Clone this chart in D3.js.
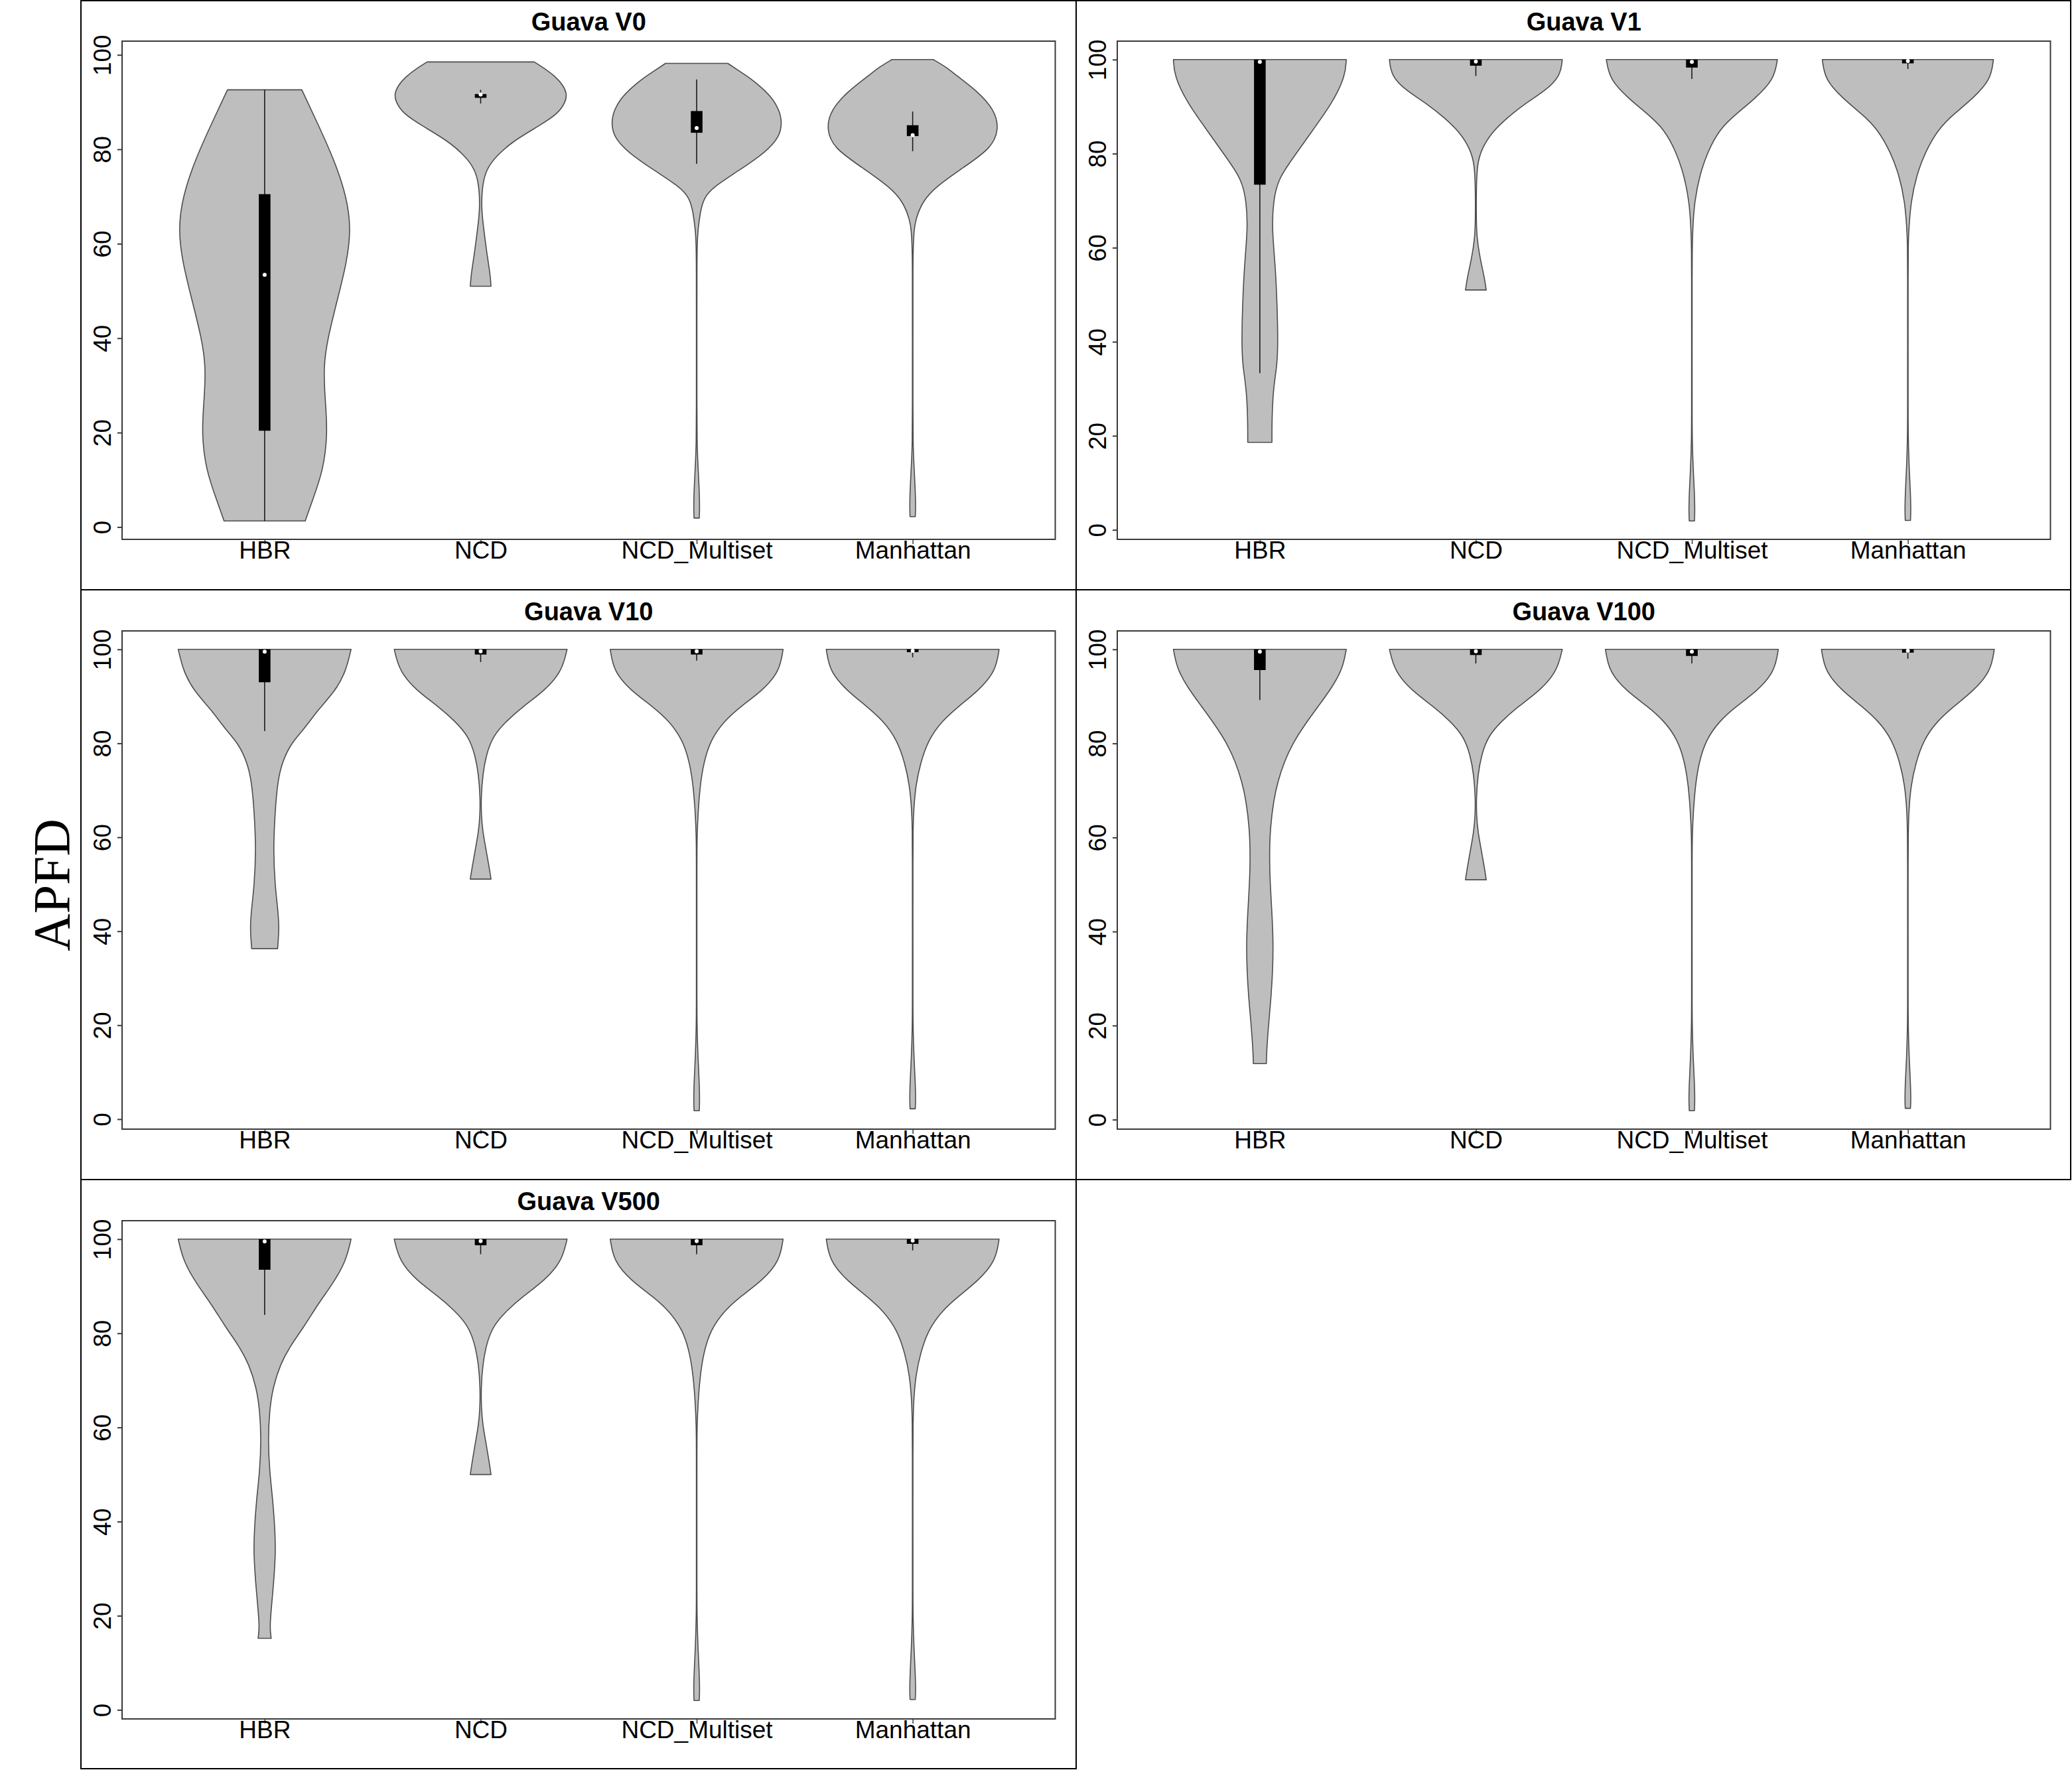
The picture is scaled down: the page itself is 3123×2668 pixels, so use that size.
<!DOCTYPE html>
<html>
<head>
<meta charset="utf-8">
<script src="https://cdn.jsdelivr.net/npm/d3@7"></script>
<style>
  html, body { margin: 0; padding: 0; background: #fff; }
  svg { display: block; }
</style>
</head>
<body>
<svg id="chart" width="3123" height="2668"></svg>
<script>
// ---------------- DATA ----------------
const panelTitles = ["Guava V0", "Guava V1", "Guava V10", "Guava V100", "Guava V500"];
const categories = ["HBR", "NCD", "NCD_Multiset", "Manhattan"];
const yTicks = [0, 20, 40, 60, 80, 100];
const yLabel = "APFD";

// Violin density profiles: [APFD value, relative half-width (1 = widest)]
const densityV0 = [
  [[1.3,0.47],[5,0.54],[12,0.68],[20,0.73],[27,0.70],[34,0.68],[40,0.73],[48,0.84],[56,0.95],[63,1.0],[70,0.95],[78,0.80],[86,0.60],[92.6,0.43]],
  [[51,0.12],[53.5,0.11],[57,0.08],[61,0.05],[64,0.03],[67,0.012],[71,0.012],[75.4,0.05],[78.6,0.18],[81.8,0.38],[85,0.68],[87.6,0.90],[90,0.98],[91.5,1.0],[93.5,0.96],[95.5,0.86],[97,0.75],[98.5,0.62]],
  [[1.9,0.03],[4,0.035],[8,0.03],[13,0.015],[18,0.004],[25,0.003],[40,0.003],[55,0.003],[60,0.006],[63,0.015],[66.5,0.04],[69.7,0.08],[72.1,0.2],[75.4,0.48],[79.4,0.80],[82.6,0.96],[85.9,0.99],[88.5,0.95],[90.7,0.88],[92.8,0.77],[94.8,0.64],[96.5,0.5],[98.2,0.36]],
  [[2.2,0.03],[4,0.035],[8,0.03],[13,0.015],[17.5,0.004],[25,0.003],[40,0.003],[55,0.003],[57.6,0.005],[60,0.008],[62.5,0.015],[64.9,0.03],[68.9,0.11],[72.1,0.27],[76.2,0.59],[80.2,0.91],[84.2,1.0],[88.3,0.95],[92.3,0.75],[95.6,0.51],[97.5,0.38],[99,0.24]]
];
const densityV1 = [
  [[18.6,0.14],[23.6,0.14],[30,0.155],[35,0.20],[40,0.21],[48,0.20],[56,0.18],[64,0.14],[69.8,0.155],[74.6,0.21],[79.5,0.40],[85.2,0.62],[90.8,0.84],[96.5,0.99],[100,1.0]],
  [[51,0.12],[53.6,0.10],[57.6,0.05],[62.5,0.008],[67.3,0.005],[72.2,0.005],[77.9,0.015],[81.1,0.07],[84.4,0.18],[87.6,0.36],[90.8,0.58],[93.3,0.80],[96.5,0.98],[100,1.0]],
  [[1.9,0.03],[4,0.035],[8,0.03],[13,0.015],[19,0.004],[25,0.003],[40,0.003],[55,0.003],[59.2,0.004],[64.1,0.01],[69.8,0.03],[75.4,0.09],[80.3,0.18],[85.2,0.32],[88.4,0.51],[91.7,0.73],[95.7,0.95],[100,0.99]],
  [[2.0,0.03],[4,0.035],[8,0.03],[13,0.015],[19.5,0.004],[25,0.003],[40,0.003],[55,0.003],[61,0.004],[64.1,0.012],[69.8,0.035],[75.4,0.10],[80.3,0.20],[85.2,0.35],[88.4,0.53],[91.7,0.75],[95.7,0.96],[100,0.99]]
];
const densityV10 = [
  [[36.3,0.15],[41,0.17],[45,0.15],[49.9,0.12],[57.2,0.10],[65.3,0.12],[71.8,0.15],[75.8,0.20],[79.9,0.30],[83.1,0.46],[87.2,0.62],[91.2,0.82],[95.3,0.94],[100,1.0]],
  [[51.1,0.12],[53.5,0.10],[57.2,0.064],[61.2,0.024],[64.5,0.008],[68.5,0.005],[73.4,0.024],[77.5,0.064],[81.5,0.14],[84.8,0.30],[88,0.50],[91.2,0.74],[95.3,0.94],[100,1.0]],
  [[1.8,0.03],[4,0.035],[8,0.03],[13,0.015],[20,0.004],[25,0.003],[40,0.003],[55,0.003],[60,0.004],[65.3,0.016],[71,0.04],[75.8,0.08],[80.7,0.16],[84.8,0.32],[88,0.52],[91.2,0.76],[95.3,0.96],[100,1.0]],
  [[2.2,0.03],[4,0.035],[8,0.03],[13,0.015],[19.5,0.004],[25,0.003],[40,0.003],[55,0.003],[62,0.004],[66,0.012],[71,0.035],[75.8,0.09],[80.7,0.18],[84.8,0.34],[88,0.54],[91.2,0.76],[95.3,0.96],[100,1.0]]
];
const densityV100 = [
  [[11.9,0.075],[15,0.08],[20,0.10],[26,0.13],[32,0.15],[38,0.155],[44,0.14],[50,0.12],[56,0.11],[62,0.12],[68,0.16],[72,0.21],[76,0.28],[80,0.38],[84,0.52],[88,0.68],[92,0.84],[96,0.96],[100,1.0]],
  [[51,0.12],[53.5,0.10],[57.2,0.064],[61.2,0.024],[64.5,0.008],[68.5,0.005],[73.4,0.024],[77.5,0.064],[81.5,0.14],[84.8,0.30],[88,0.50],[91.2,0.74],[95.3,0.94],[100,1.0]],
  [[1.9,0.03],[4,0.035],[8,0.03],[13,0.015],[20,0.004],[25,0.003],[40,0.003],[55,0.003],[60,0.004],[65.3,0.016],[71,0.04],[75.8,0.08],[80.7,0.16],[84.8,0.32],[88,0.52],[91.2,0.76],[95.3,0.96],[100,1.0]],
  [[2.4,0.03],[4,0.035],[8,0.03],[13,0.015],[19.5,0.004],[25,0.003],[40,0.003],[55,0.003],[61,0.004],[66,0.012],[71,0.035],[75.8,0.09],[80.7,0.18],[84.8,0.34],[88,0.54],[91.2,0.76],[95.3,0.96],[100,1.0]]
];
const densityV500 = [
  [[15.2,0.076],[17.7,0.056],[25,0.096],[33.1,0.128],[37.9,0.12],[44.4,0.096],[50.8,0.056],[57.3,0.04],[63.7,0.056],[68.5,0.096],[73.4,0.18],[77.4,0.30],[81.5,0.46],[86.3,0.62],[90.3,0.78],[95.2,0.94],[100,1.0]],
  [[50.0,0.12],[52.5,0.10],[56.5,0.064],[60.5,0.024],[64,0.008],[68.5,0.005],[73.4,0.024],[77.5,0.064],[81.5,0.14],[84.8,0.30],[88,0.50],[91.2,0.74],[95.3,0.94],[100,1.0]],
  [[2.0,0.03],[4,0.035],[8,0.03],[13,0.015],[20,0.004],[25,0.003],[40,0.003],[55,0.003],[60,0.004],[65.3,0.016],[71,0.04],[75.8,0.08],[80.7,0.16],[84.8,0.32],[88,0.52],[91.2,0.76],[95.3,0.96],[100,1.0]],
  [[2.2,0.03],[4,0.035],[8,0.03],[13,0.015],[19.5,0.004],[25,0.003],[40,0.003],[55,0.003],[61,0.004],[66,0.012],[71,0.035],[75.8,0.09],[80.7,0.18],[84.8,0.34],[88,0.54],[91.2,0.76],[95.3,0.96],[100,1.0]]
];

// Box statistics: [lower whisker, Q1, median, Q3, upper whisker]
const boxV0 = [[1.3,20.4,53.4,70.5,92.6],[89.7,90.9,91.6,91.7,92.6],[76.9,83.5,84.5,88.1,94.8],[79.6,82.8,83.0,85.1,88.0]];
const boxV1 = [[33.3,73.4,99.5,100,100],[96.5,98.7,99.6,100,100],[95.9,98.3,99.5,100,100],[98.0,99.2,99.7,100,100]];
const boxV10 = [[82.6,93.0,99.5,100,100],[97.3,98.9,99.6,100,100],[97.6,98.9,99.6,100,100],[98.3,99.4,99.7,100,100]];
const boxV100 = [[89.2,95.6,99.5,100,100],[97.0,98.8,99.6,100,100],[97.0,98.6,99.5,100,100],[98.0,99.3,99.7,100,100]];
const boxV500 = [[83.9,93.5,99.5,100,100],[96.8,98.7,99.6,100,100],[96.8,98.7,99.6,100,100],[97.6,99.0,99.7,100,100]];

const densities = [densityV0, densityV1, densityV10, densityV100, densityV500];
const boxes = [boxV0, boxV1, boxV10, boxV100, boxV500];

// ---------------- DRAW ----------------
const svg = d3.select("#chart");
const FONT = "'Liberation Sans', Arial, Helvetica, sans-serif";
const colX0 = [122, 1622], colW = 1500, rowH = 889;
const violinFill = "#BEBEBE", violinStroke = "#4d4d4d";

// figure frames
panelTitles.forEach((t, i) => {
  const c = i % 2, r = Math.floor(i / 2);
  const fx = colX0[c], fy = r * rowH;
  svg.append("rect")
    .attr("x", fx).attr("y", Math.max(fy, 1))
    .attr("width", c === 1 ? 3121 - fx : colW)
    .attr("height", r === 0 ? rowH - 1 : (r === 2 ? 2666 - fy : rowH))
    .attr("fill", "none").attr("stroke", "#000").attr("stroke-width", 2);
});

panelTitles.forEach((title, i) => {
  const c = i % 2, r = Math.floor(i / 2);
  const fx = colX0[c], fy = r * rowH;
  const left = fx + 62, right = fx + 1468.5, top = fy + 62, bottom = fy + 813;

  const dens = densities[i], bx = boxes[i];
  const allV = dens.flat().map(d => d[0]);
  const vmin = d3.min(allV), vmax = d3.max(allV);
  const pad = (vmax - vmin) * 0.04;
  const y = d3.scaleLinear().domain([vmin - pad, vmax + pad]).range([bottom, top]);
  const x = d3.scaleLinear().domain([0.34, 4.66]).range([left, right]);
  const w = d3.scaleLinear().domain([0, 1]).range([0, 0.4]);

  const g = svg.append("g");

  // violins
  dens.forEach((prof, ci) => {
    const pos = ci + 1;
    const pts = prof.slice().sort((a, b) => b[0] - a[0]);
    const area = d3.area()
      .curve(d3.curveBasis)
      .y(d => y(d[0]))
      .x0(d => x(pos - w(d[1])))
      .x1(d => x(pos + w(d[1])));
    g.append("path").attr("d", area(pts))
      .attr("fill", violinFill).attr("stroke", violinStroke)
      .attr("stroke-width", 1.6).attr("stroke-linejoin", "round");
  });

  // boxes
  bx.forEach((b, ci) => {
    const pos = ci + 1;
    const [lw, q1, med, q3, hw] = b;
    g.append("line")
      .attr("x1", x(pos)).attr("x2", x(pos))
      .attr("y1", y(lw)).attr("y2", y(hw))
      .attr("stroke", "#1a1a1a").attr("stroke-width", 1.6);
    g.append("rect")
      .attr("x", x(pos - 0.027)).attr("width", x(pos + 0.027) - x(pos - 0.027))
      .attr("y", y(q3)).attr("height", Math.max(1, y(q1) - y(q3)))
      .attr("fill", "#000");
    g.append("circle")
      .attr("cx", x(pos)).attr("cy", y(med)).attr("r", 3)
      .attr("fill", "#fff");
  });

  // plot box
  g.append("rect")
    .attr("x", left).attr("y", top)
    .attr("width", right - left).attr("height", bottom - top)
    .attr("fill", "none").attr("stroke", "#3a3a3a").attr("stroke-width", 2);

  // y axis
  const ya = g.append("g").attr("transform", `translate(${left},0)`)
    .call(d3.axisLeft(y).tickValues(yTicks).tickSize(7).tickSizeOuter(0));
  ya.select(".domain").remove();
  ya.selectAll(".tick line").attr("stroke", "#3a3a3a").attr("stroke-width", 2);
  ya.selectAll(".tick text")
    .attr("x", null).attr("dy", null)
    .attr("transform", "translate(-17,0) rotate(-90)")
    .attr("text-anchor", "middle")
    .attr("font-family", FONT).attr("font-size", 37).attr("fill", "#000");

  // x axis
  const xa = g.append("g").attr("transform", `translate(0,${bottom})`)
    .call(d3.axisBottom(x).tickValues([1, 2, 3, 4]).tickFormat(d => categories[d - 1]).tickSize(7).tickSizeOuter(0));
  xa.select(".domain").remove();
  xa.selectAll(".tick line").attr("stroke", "#3a3a3a").attr("stroke-width", 1.5);
  xa.selectAll(".tick text")
    .attr("y", 29).attr("dy", null)
    .attr("text-anchor", "middle")
    .attr("font-family", FONT).attr("font-size", 37).attr("fill", "#000");

  // title
  g.append("text")
    .attr("x", (left + right) / 2).attr("y", fy + 46)
    .attr("text-anchor", "middle")
    .attr("font-family", FONT).attr("font-weight", "bold").attr("font-size", 38)
    .text(title);
});

// shared y label
svg.append("text")
  .attr("transform", "translate(104,1334) rotate(-90)")
  .attr("text-anchor", "middle")
  .attr("font-family", "'Liberation Serif', 'Times New Roman', serif")
  .attr("font-size", 78)
  .text(yLabel);
</script>
</body>
</html>
